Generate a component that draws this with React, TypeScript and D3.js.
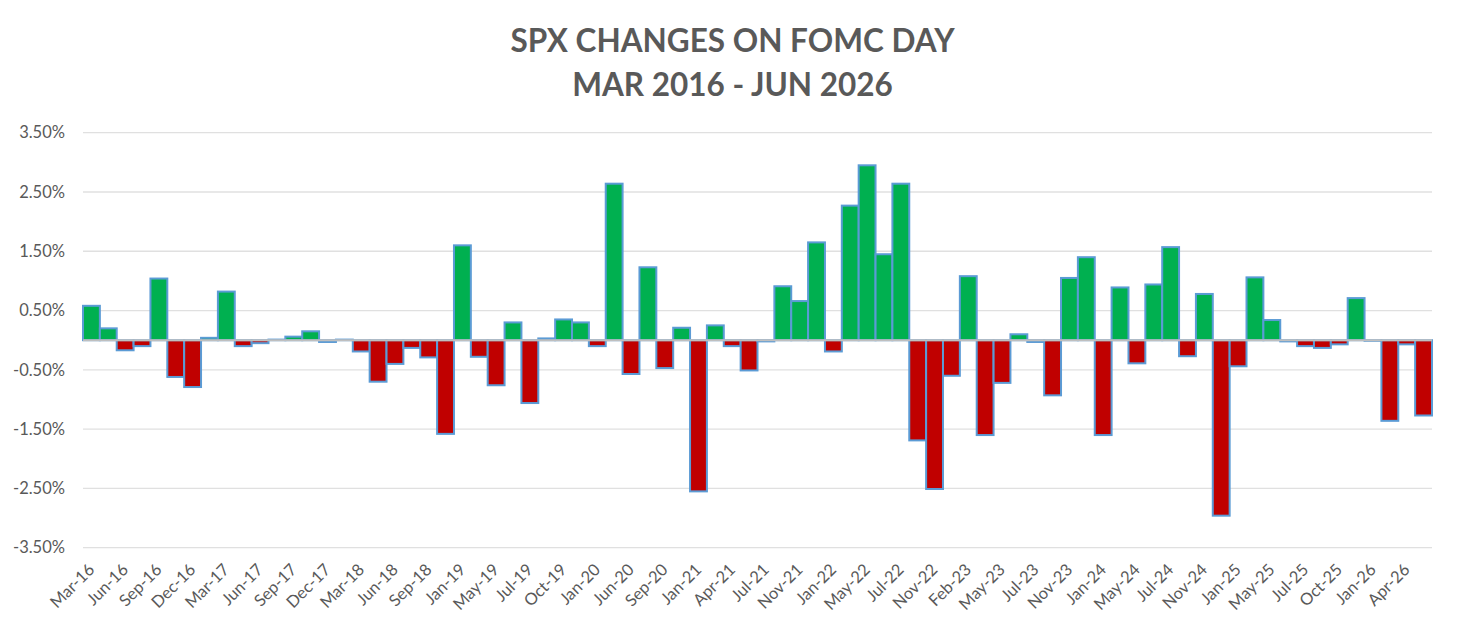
import * as d3 from "d3";
import { useEffect } from "react";

// FOMC meeting days shown on the chart
const categories = [
  "Mar-16", "Apr-16", "Jun-16", "Jul-16", "Sep-16", "Nov-16", "Dec-16",
  "Feb-17", "Mar-17", "May-17", "Jun-17", "Jul-17", "Sep-17", "Nov-17", "Dec-17",
  "Jan-18", "Mar-18", "May-18", "Jun-18", "Aug-18", "Sep-18", "Dec-18",
  "Jan-19", "Mar-19", "May-19", "Jun-19", "Jul-19", "Sep-19", "Oct-19", "Dec-19",
  "Jan-20", "Apr-20", "Jun-20", "Jul-20", "Sep-20", "Dec-20",
  "Jan-21", "Mar-21", "Apr-21", "Jun-21", "Jul-21", "Sep-21", "Nov-21", "Dec-21",
  "Jan-22", "Mar-22", "May-22", "Jun-22", "Jul-22", "Sep-22", "Nov-22", "Dec-22",
  "Feb-23", "Mar-23", "May-23", "Jun-23", "Jul-23", "Sep-23", "Nov-23", "Dec-23",
  "Jan-24", "Mar-24", "May-24", "Jun-24", "Jul-24", "Sep-24", "Nov-24", "Dec-24",
  "Jan-25", "Mar-25", "May-25", "Jun-25", "Jul-25", "Sep-25", "Oct-25", "Dec-25",
  "Jan-26", "Mar-26", "Apr-26", "Jun-26",
];

// SPX % change on each FOMC day
const changes = [
  0.58, 0.2, -0.17, -0.1, 1.04, -0.62, -0.79,
  0.04, 0.82, -0.1, -0.05, 0.01, 0.06, 0.15, -0.03,
  0.01, -0.19, -0.7, -0.4, -0.13, -0.29, -1.58,
  1.6, -0.28, -0.76, 0.3, -1.06, 0.03, 0.35, 0.3,
  -0.1, 2.64, -0.57, 1.23, -0.47, 0.21,
  -2.55, 0.25, -0.1, -0.51, -0.02, 0.91, 0.66, 1.65,
  -0.19, 2.27, 2.95, 1.45, 2.64, -1.69, -2.51, -0.6,
  1.08, -1.6, -0.72, 0.1, -0.03, -0.93, 1.05, 1.4,
  -1.6, 0.89, -0.39, 0.94, 1.57, -0.27, 0.78, -2.96,
  -0.44, 1.06, 0.34, -0.02, -0.1, -0.13, -0.07, 0.71,
  -0.01, -1.36, -0.07, -1.27,
];

const yTicks = [-3.5, -2.5, -1.5, -0.5, 0.5, 1.5, 2.5, 3.5];
const titleLines = ["SPX CHANGES ON FOMC DAY", "MAR 2016 - JUN 2026"];

const W = 1467;
const H = 631;
const PLOT = { left: 83, right: 1432, top: 132.7, bottom: 547.7 };
const GREEN = "#00B050";
const RED = "#C00000";
const EDGE = "#5B9BD5";
const TEXT = "#595959";
const FONT = "Lato, 'Open Sans', sans-serif";

export default function App() {
  useEffect(() => {
    document.body.style.margin = "0";
  }, []);

  const x = d3
    .scaleBand<string>()
    .domain(categories)
    .range([PLOT.left, PLOT.right])
    .paddingInner(0)
    .paddingOuter(0);

  const y = d3
    .scaleLinear()
    .domain([-3.5, 3.5])
    .range([PLOT.bottom, PLOT.top]);

  const fmt = (v: number) => `${v.toFixed(2)}%`;

  return (
    <svg width={W} height={H} style={{ display: "block", background: "#fff" }}>
      {/* title */}
      {titleLines.map((t, i) => (
        <text
          key={t}
          x={W / 2 - 1}
          y={52 + i * 44}
          textAnchor="middle"
          fill={TEXT}
          fontFamily={FONT}
          fontWeight={700}
          fontSize={31.5}
        >
          {t}
        </text>
      ))}

      {/* gridlines */}
      {yTicks.map((t) => (
        <line
          key={t}
          x1={PLOT.left}
          x2={PLOT.right}
          y1={y(t)}
          y2={y(t)}
          stroke="#e0e0e0"
          strokeWidth={1.3}
        />
      ))}

      {/* y labels */}
      {yTicks.map((t) => (
        <text
          key={t}
          x={65}
          y={y(t)}
          dy="0.35em"
          textAnchor="end"
          fill={TEXT}
          fontFamily={FONT}
          fontSize={16.5}
        >
          {fmt(t)}
        </text>
      ))}

      {/* bars */}
      {categories.map((c, i) => {
        const v = changes[i];
        const y0 = y(0);
        const y1 = y(v);
        return (
          <rect
            key={c}
            x={x(c)!}
            width={x.bandwidth()}
            y={Math.min(y0, y1)}
            height={Math.abs(y1 - y0)}
            fill={v >= 0 ? GREEN : RED}
            stroke={EDGE}
            strokeWidth={2}
          />
        );
      })}

      {/* zero line */}
      <line
        x1={PLOT.left}
        x2={PLOT.right}
        y1={y(0)}
        y2={y(0)}
        stroke="#bfbfbf"
        strokeWidth={2}
      />

      {/* x labels, every other meeting */}
      {categories.map((c, i) =>
        i % 2 === 0 ? (
          <text
            key={c}
            transform={`translate(${x(c)! + x.bandwidth() / 2 + 4},${PLOT.bottom + 23}) rotate(-45)`}
            textAnchor="end"
            fill={TEXT}
            fontFamily={FONT}
            fontSize={16.5}
          >
            {c}
          </text>
        ) : null,
      )}
    </svg>
  );
}
